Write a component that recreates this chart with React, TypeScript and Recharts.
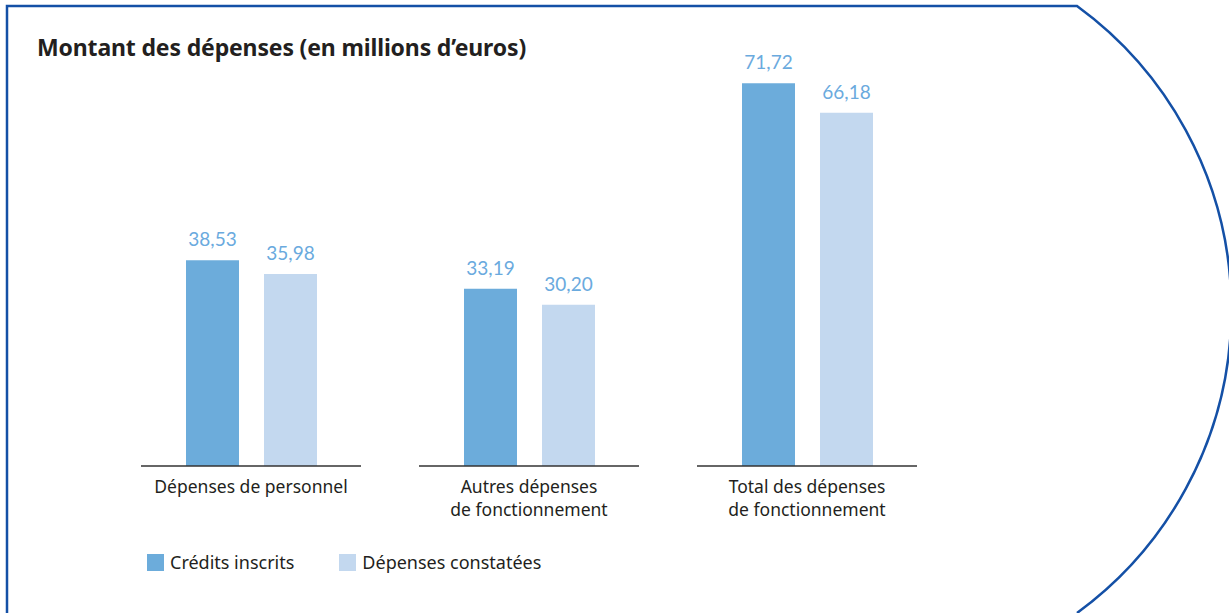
import { BarChart, Bar, XAxis, YAxis, Legend, LabelList } from 'recharts';

// catégories (retour à la ligne = \n)
const categories = [
  'Dépenses de personnel',
  'Autres dépenses\nde fonctionnement',
  'Total des dépenses\nde fonctionnement',
];
const creditsInscrits = [38.53, 33.19, 71.72];
const depensesConstatees = [35.98, 30.2, 66.18];

const data = categories.map((c, i) => ({
  name: c,
  credits: creditsInscrits[i],
  depenses: depensesConstatees[i],
}));

const FONT = '"Noto Sans", sans-serif';
const NUM_FONT = 'Lato, "Noto Sans", sans-serif';
const TEXT = '#231f20';
const DARK = '#6cacdb';
const LIGHT = '#c3d8ef';
const LABEL = '#6aaade';
const BORDER = '#1450a6';

const fmt = (v: any) => Number(v).toFixed(2).replace('.', ',');

const CategoryTick = (props: any) => {
  const { x, y, payload } = props;
  const lines = String(payload.value).split('\n');
  return (
    <g>
      <line x1={x - 110} x2={x + 110} y1={y} y2={y} stroke="#333" strokeWidth={1.3} />
      <text x={x} y={y + 27} textAnchor="middle" fill={TEXT} fontSize={17.5} fontFamily={FONT}>
        {lines.map((l, i) => (
          <tspan key={i} x={x} dy={i === 0 ? 0 : 22.5}>{l}</tspan>
        ))}
      </text>
    </g>
  );
};

const LegendContent = (props: any) => {
  const { payload } = props;
  return (
    <div style={{ display: 'flex', alignItems: 'center', fontFamily: FONT, fontSize: 18, color: TEXT }}>
      {(payload || []).map((p: any, i: number) => (
        <div key={i} style={{ display: 'flex', alignItems: 'center', marginRight: 45 }}>
          <span style={{ width: 17, height: 17, background: p.color, display: 'inline-block', marginRight: 6 }} />
          <span>{p.value}</span>
        </div>
      ))}
    </div>
  );
};

export default function App() {
  return (
    <div style={{ position: 'absolute', left: 0, top: 0, width: 1229, height: 613, background: '#fff' }}>
      <svg width={1229} height={613} style={{ position: 'absolute', left: 0, top: 0 }}>
        <path
          d="M7,613 L7,6 L1077,6 A375.6,375.6 0 0 1 1077,613"
          fill="none"
          stroke={BORDER}
          strokeWidth={2.5}
        />
      </svg>
      <div
        style={{
          position: 'absolute', left: 37, top: 31, fontFamily: FONT, fontWeight: 700,
          fontSize: 23, color: TEXT, whiteSpace: 'nowrap', letterSpacing: -0.15,
        }}
      >
        Montant des dépenses (en millions d’euros)
      </div>
      <div style={{ position: 'absolute', left: 0, top: 0 }}>
        <BarChart
          width={1229}
          height={613}
          data={data}
          margin={{ top: 39, left: 112, right: 283, bottom: 87 }}
          barSize={53}
          barGap={25}
        >
          <XAxis
            dataKey="name"
            axisLine={false}
            tickLine={false}
            tickSize={0}
            tickMargin={0}
            height={60}
            interval={0}
            tick={<CategoryTick />}
          />
          <YAxis hide domain={[0, 80]} />
          <Legend
            layout="horizontal"
            verticalAlign="middle"
            wrapperStyle={{ top: 550, left: 147, width: 'auto' }}
            content={<LegendContent />}
          />
          <Bar dataKey="credits" name="Crédits inscrits" fill={DARK} isAnimationActive={false}>
            <LabelList dataKey="credits" position="top" offset={14} formatter={fmt} fill={LABEL} fontSize={19} fontFamily={NUM_FONT} />
          </Bar>
          <Bar dataKey="depenses" name="Dépenses constatées" fill={LIGHT} isAnimationActive={false}>
            <LabelList dataKey="depenses" position="top" offset={14} formatter={fmt} fill={LABEL} fontSize={19} fontFamily={NUM_FONT} />
          </Bar>
        </BarChart>
      </div>
    </div>
  );
}
